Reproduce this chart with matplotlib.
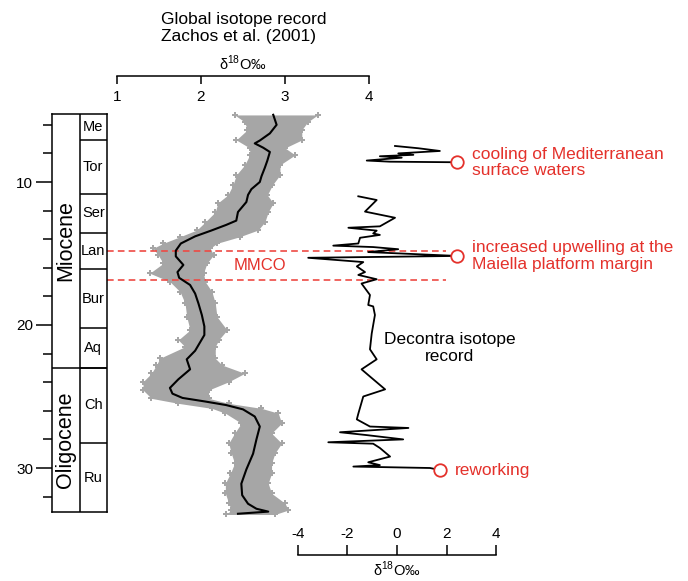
import numpy as np
import matplotlib.pyplot as plt

plt.rcParams['font.family'] = ['Liberation Sans', 'DejaVu Sans']
plt.rcParams['mathtext.fontset'] = 'custom'
plt.rcParams['mathtext.rm'] = 'Liberation Sans'
plt.rcParams['axes.unicode_minus'] = False

W, H = 688, 581
RED = '#e4312b'
GREY = '#a6a6a6'

# stratigraphic column (ages in Ma)
stage_names = ['Me', 'Tor', 'Ser', 'Lan', 'Bur', 'Aq', 'Ch', 'Ru']
stage_bounds = [5.25, 7.05, 10.85, 13.55, 16.1, 20.2, 23.0, 28.25, 33.1]
epoch_names = ['Miocene', 'Oligocene']
epoch_bounds = [5.25, 23.0, 33.1]
mmco = [14.8, 16.85]

# Zachos et al. (2001) cloud envelope
zach_env_age = [5.31, 5.80, 6.36, 7.06, 7.62, 8.11, 8.81, 9.51, 10.21, 10.91,
                11.47, 12.10, 12.80, 13.36, 13.83, 14.29, 14.64, 15.10, 15.69, 16.38,
                16.97, 17.67, 18.48, 19.42, 20.35, 21.05, 21.52, 22.33, 22.80, 23.38,
                23.97, 24.55, 25.13, 25.48, 25.83, 26.17, 26.87, 27.57, 28.27, 28.97,
                29.67, 30.37, 31.07, 31.77, 32.47, 32.94, 33.25]
zach_env_left = [2.40, 2.52, 2.55, 2.42, 2.58, 2.58, 2.52, 2.42, 2.38, 2.32,
                 2.20, 2.17, 2.05, 1.95, 1.75, 1.55, 1.43, 1.49, 1.55, 1.39,
                 1.63, 1.75, 1.81, 1.83, 1.87, 1.73, 1.81, 1.51, 1.47, 1.41,
                 1.31, 1.31, 1.41, 1.73, 2.13, 2.29, 2.48, 2.40, 2.33, 2.36,
                 2.40, 2.35, 2.29, 2.29, 2.33, 2.36, 2.30]
zach_env_right = [3.39, 3.27, 3.20, 3.20, 3.00, 3.12, 2.94, 2.94, 2.85, 2.79,
                  2.86, 2.80, 2.76, 2.68, 2.46, 2.19, 2.11, 2.15, 2.07, 2.03,
                  2.05, 2.13, 2.17, 2.19, 2.31, 2.21, 2.17, 2.17, 2.25, 2.52,
                  2.33, 2.09, 2.09, 2.33, 2.72, 2.92, 2.96, 2.84, 2.96, 2.88,
                  2.84, 2.84, 2.80, 2.84, 3.00, 3.04, 2.88]

# smoothed Zachos curve
zach_age = [5.3, 6.0, 6.6, 7.1, 7.3, 7.6, 7.9, 8.5, 9.0, 9.6,
            10.0, 10.5, 10.9, 11.4, 12.1, 12.7, 13.0, 13.4, 13.8, 14.3,
            14.8, 15.2, 15.8, 16.3, 16.7, 17.2, 17.8, 18.5, 19.3, 20.1,
            20.7, 21.2, 21.8, 22.4, 23.1, 23.8, 24.4, 24.8, 25.1, 25.35,
            25.6, 25.9, 26.4, 27.1, 28.0, 29.0, 30.1, 31.1, 31.9, 32.5,
            32.85, 33.05, 33.2]
zach_val = [2.86, 2.90, 2.82, 2.70, 2.64, 2.74, 2.82, 2.79, 2.76, 2.72,
            2.70, 2.60, 2.56, 2.54, 2.44, 2.42, 2.30, 2.12, 1.93, 1.76,
            1.70, 1.70, 1.79, 1.72, 1.74, 1.87, 1.93, 1.97, 2.01, 2.04,
            2.04, 1.99, 1.93, 1.83, 1.87, 1.73, 1.63, 1.66, 1.78, 2.05,
            2.30, 2.50, 2.64, 2.70, 2.66, 2.62, 2.54, 2.48, 2.49, 2.56,
            2.66, 2.80, 2.44]

# Decontra record (two pieces)
dec_up_age = [7.48, 7.64, 7.83, 8.0, 8.1, 8.2, 8.3, 8.5, 8.58, 8.62]
dec_up_val = [-0.08, 0.86, 1.73, 0.05, 0.66, -0.69, 0.19, -1.22, -0.28, 2.41]
dec_lo_age = [11.0, 11.26, 12.07, 12.5, 13.1, 13.2, 13.4, 13.6, 13.7, 13.9,
              14.3, 14.45, 14.55, 14.7, 14.9, 15.17, 15.3, 15.6, 15.9, 16.3,
              16.5, 16.8, 17.1, 17.9, 18.6, 18.7, 19.3, 20.6, 21.7, 22.4,
              23.1, 23.5, 24.5, 25.0, 26.2, 26.6, 27.1, 27.2, 27.5, 27.7,
              28.0, 28.2, 28.3, 28.6, 29.2, 29.6, 29.8, 29.9, 30.0, 30.14]
dec_lo_val = [-1.56, -0.82, -1.29, -0.08, -0.69, -1.96, -0.82, -0.96, -0.69, -1.49,
              -1.56, -2.57, -0.96, 0.05, -1.16, 2.41, -3.58, -1.36, -1.62, -1.29,
              -1.56, -0.82, -1.43, -1.09, -1.16, -0.96, -0.89, -1.02, -1.09, -0.82,
              -1.43, -1.16, -0.48, -1.36, -1.56, -1.62, -1.09, 0.46, -2.30, -1.22,
              0.25, -2.77, -0.96, -0.69, -0.28, -1.16, -0.69, -1.76, 1.33, 1.73]

event_age = [8.62, 15.17, 30.14]
event_val = [2.41, 2.41, 1.73]
event_text = ['cooling of Mediterranean\nsurface waters',
              'increased upwelling at the\nMaiella platform margin',
              'reworking']

D18O = 'δ$^{18}$O‰'


# pixel layout of the reference picture
def age_y(a):
    return 182 + (a - 10) * 14.3


def zach_x(v):
    return 117 + 84 * (v - 1)


def dec_x(v):
    return 397 + 24.8 * v


def inv(f, px):
    a = f(0)
    return (px - a) / (f(1) - a)


def fig_rect(x0, y0, x1, y1):
    return [x0 / W, 1 - y1 / H, (x1 - x0) / W, (y1 - y0) / H]


fig = plt.figure(figsize=(W / 100, H / 100), dpi=100)

# main data axes, spanning the whole figure
ax = fig.add_axes([0, 0, 1, 1])
ax.set_xlim(inv(zach_x, 0), inv(zach_x, W))
ax.set_ylim(inv(age_y, H), inv(age_y, 0))
ax.axis('off')
ax2 = ax.twiny()
ax2.set_xlim(inv(dec_x, 0), inv(dec_x, W))
ax2.axis('off')

# Zachos cloud + curve
ax.fill_betweenx(zach_env_age, zach_env_left, zach_env_right, color=GREY, lw=0, zorder=1)
ax.scatter(zach_env_left + zach_env_right, zach_env_age + zach_env_age,
           marker='P', s=16, color=GREY, lw=0, zorder=1)
ax.plot(zach_val, zach_age, color='black', lw=1.5, zorder=3, solid_joinstyle='round')

# MMCO band
ax.hlines(mmco, inv(zach_x, 107), inv(zach_x, 446), colors='#ee4a44',
          linestyles=(0, (4, 2.5)), lw=1.2, zorder=2)
ax.text(inv(zach_x, 260), np.mean(mmco), 'MMCO', color=RED, fontsize=12,
        ha='center', va='center')

# Decontra record
ax2.plot(dec_up_val, dec_up_age, color='black', lw=1.3, zorder=3)
ax2.plot(dec_lo_val, dec_lo_age, color='black', lw=1.3, zorder=3)
ax2.plot(event_val, event_age, 'o', mfc='white', mec=RED, ms=9, mew=1.3, zorder=5)
for v, a, t in zip(event_val, event_age, event_text):
    ax2.annotate(t, (v, a), xytext=(11, 0), textcoords='offset points',
                 color=RED, fontsize=12.5, ha='left', va='center', linespacing=1.1)
ax2.text(inv(dec_x, 450), inv(age_y, 348), 'Decontra isotope\nrecord', fontsize=12.5,
         ha='center', va='center', linespacing=1.1)

# title
fig.text(161 / W, 1 - 28 / H, 'Global isotope record\nZachos et al. (2001)',
         fontsize=12.5, ha='left', va='center', linespacing=1.15)

# top ruler (Zachos)
ax_top = fig.add_axes(fig_rect(zach_x(1), 75.5, zach_x(4), 76))
ax_top.set_xlim(1, 4)
ax_top.set_xticks([1, 2, 3, 4])
ax_top.set_yticks([])
for s in ['top', 'left', 'right']:
    ax_top.spines[s].set_visible(False)
ax_top.spines['bottom'].set_linewidth(1.1)
ax_top.tick_params(axis='x', length=6, width=1.1, labelsize=11, pad=4)
ax_top.xaxis.set_label_position('top')
ax_top.set_xlabel(D18O, fontsize=10.5, labelpad=4)
ax_top.patch.set_visible(False)

# bottom ruler (Decontra)
ax_bot = fig.add_axes(fig_rect(dec_x(-4), 555, dec_x(4), 555.5))
ax_bot.set_xlim(-4, 4)
ax_bot.set_xticks([-4, -2, 0, 2, 4])
ax_bot.set_yticks([])
for s in ['bottom', 'left', 'right']:
    ax_bot.spines[s].set_visible(False)
ax_bot.spines['top'].set_linewidth(1.1)
ax_bot.xaxis.tick_top()
ax_bot.tick_params(axis='x', length=7, width=1.1, labelsize=11, pad=3)
ax_bot.xaxis.set_label_position('bottom')
ax_bot.set_xlabel(D18O, fontsize=10.5, labelpad=3)
ax_bot.patch.set_visible(False)

# stratigraphic column with age axis
ax_col = fig.add_axes(fig_rect(52, age_y(stage_bounds[0]), 107, age_y(stage_bounds[-1])))
ax_col.set_ylim(stage_bounds[-1], stage_bounds[0])
ax_col.set_xlim(0, 2)
ax_col.set_xticks([])
ax_col.set_yticks([10, 20, 30])
ax_col.set_yticks(np.arange(6, 33, 2), minor=True)
ax_col.tick_params(axis='y', which='major', length=11.5, width=1.1, labelsize=11, pad=2)
ax_col.tick_params(axis='y', which='minor', length=6.5, width=1.1)
for s in ax_col.spines.values():
    s.set_linewidth(1.1)
ax_col.axvline(1, color='black', lw=1.1)
ax_col.hlines(stage_bounds[1:-1], 1, 2, colors='black', lw=1.1)
ax_col.hlines(epoch_bounds[1:-1], 0, 2, colors='black', lw=1.1)
for i, name in enumerate(stage_names):
    ax_col.text(1.5, (stage_bounds[i] + stage_bounds[i + 1]) / 2, name,
                ha='center', va='center', fontsize=10.5)
for i, name in enumerate(epoch_names):
    ax_col.text(0.5, (epoch_bounds[i] + epoch_bounds[i + 1]) / 2, name,
                ha='center', va='center', fontsize=15.5, rotation=90)

fig.savefig('out.png', dpi=100)
